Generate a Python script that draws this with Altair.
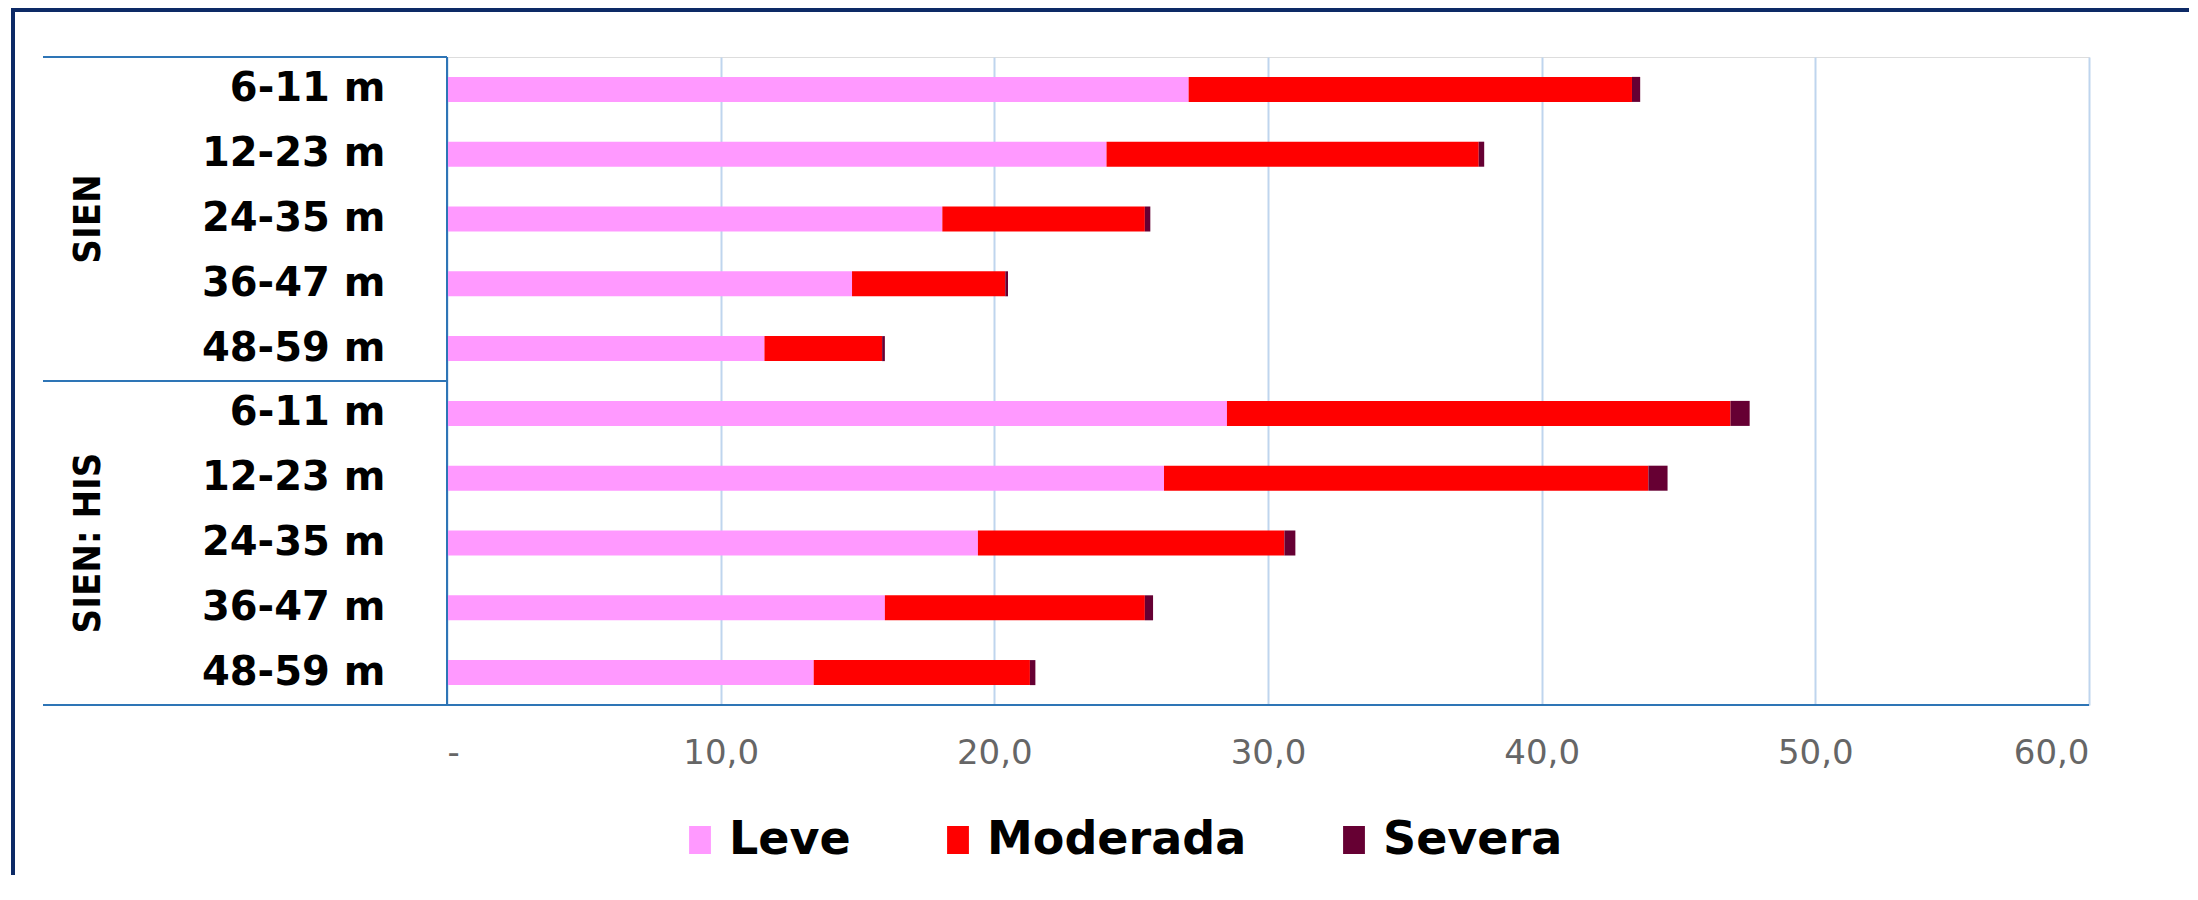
import altair as alt
import pandas as pd

groups = ["SIEN", "SIEN: HIS"]
ages = ["6-11 m", "12-23 m", "24-35 m", "36-47 m", "48-59 m"]
levels = ["Leve", "Moderada", "Severa"]
colors = ["#ff99ff", "#ff0000", "#660033"]

# values per group, in the order of `ages`
sien_leve = [27.1, 24.1, 18.1, 14.8, 11.6]
sien_moderada = [16.2, 13.6, 7.4, 5.6, 4.3]
sien_severa = [0.3, 0.2, 0.2, 0.1, 0.1]
his_leve = [28.5, 26.2, 19.4, 16.0, 13.4]
his_moderada = [18.4, 17.7, 11.2, 9.5, 7.9]
his_severa = [0.7, 0.7, 0.4, 0.3, 0.2]

x_ticks = [0, 10, 20, 30, 40, 50, 60]

W, H = 1642, 648
BLUE = "#2e75b6"
GRID = "#bfd5ee"

series = {
    "SIEN": [sien_leve, sien_moderada, sien_severa],
    "SIEN: HIS": [his_leve, his_moderada, his_severa],
}
rows = []
keys = []
for g in groups:
    for i, a in enumerate(ages):
        k = f"{g}|{a}"
        keys.append(k)
        for j, lv in enumerate(levels):
            rows.append({"key": k, "group": g, "age": a, "level": lv,
                         "value": series[g][j][i], "ord": j})
df = pd.DataFrame(rows)

yscale = alt.Scale(domain=keys, paddingInner=0.614, paddingOuter=0.307)

bars = alt.Chart(df).mark_bar().encode(
    x=alt.X("value:Q", stack="zero",
            scale=alt.Scale(domain=[0, 60], nice=False),
            axis=alt.Axis(values=x_ticks, title=None, grid=True,
                          gridColor=GRID, gridWidth=2, domain=False,
                          ticks=False, tickSize=0, labelPadding=48,
                          labelBaseline="middle",
                          labelExpr="datum.value == 0 ? '-' : replace(format(datum.value, '.1f'), '.', ',')",
                          labelFont="DejaVu Sans", labelFontSize=34,
                          labelColor="#666666")),
    y=alt.Y("key:N", sort=keys, scale=yscale,
            axis=alt.Axis(title=None, domain=False, ticks=False, tickSize=0,
                          labelPadding=62,
                          labelExpr="split(datum.label, '|')[1]",
                          labelFont="DejaVu Sans", labelFontWeight="bold",
                          labelFontSize=40, labelColor="#000000",
                          labelLimit=0)),
    color=alt.Color("level:N", sort=levels,
                    scale=alt.Scale(domain=levels, range=colors),
                    legend=alt.Legend(title=None, orient="none",
                                      legendX=230, legendY=760,
                                      direction="horizontal",
                                      symbolType="M-0.78,-1H0.78V1H-0.78Z",
                                      symbolSize=784, symbolStrokeWidth=0,
                                      labelOffset=6, columnPadding=84,
                                      padding=0, labelLimit=0,
                                      labelFont="DejaVu Sans",
                                      labelFontWeight="bold",
                                      labelFontSize=46,
                                      labelColor="#000000")),
    order=alt.Order("ord:Q"),
)

glab = pd.DataFrame({"key": [f"{g}|{ages[2]}" for g in groups], "label": groups})
group_text = alt.Chart(glab).mark_text(
    angle=270, align="center", baseline="middle",
    font="Liberation Sans Narrow, DejaVu Sans Condensed, DejaVu Sans",
    fontWeight="bold", fontSize=38, color="#000000"
).encode(
    y=alt.Y("key:N", sort=keys, scale=yscale),
    x=alt.value(-358),
    text="label:N",
)

one = pd.DataFrame({"a": [0]})
line_top = alt.Chart(one).mark_rule(color=BLUE, strokeWidth=2).encode(
    x=alt.value(-404), x2=alt.value(0), y=alt.value(0))
line_mid = alt.Chart(one).mark_rule(color=BLUE, strokeWidth=2).encode(
    x=alt.value(-404), x2=alt.value(0), y=alt.value(H / 2))
line_bot = alt.Chart(one).mark_rule(color=BLUE, strokeWidth=2).encode(
    x=alt.value(-404), x2=alt.value(W), y=alt.value(H))
line_v = alt.Chart(one).mark_rule(color=BLUE, strokeWidth=2).encode(
    x=alt.value(0), y=alt.value(0), y2=alt.value(H))
frame = alt.Chart(one).mark_rect(fillOpacity=0, stroke="#0d2a66", strokeWidth=4).encode(
    x=alt.value(-434), x2=alt.value(W + 300), y=alt.value(-47), y2=alt.value(H + 400))

chart = alt.layer(bars, group_text, line_top, line_mid, line_bot, line_v, frame).properties(
    width=W, height=H,
    autosize=alt.AutoSizeParams(type="none"),
    padding={"left": 439, "top": 49, "right": 100, "bottom": 170},
).configure_view(stroke=None).configure(background="white")

chart.save("out.html", embed_options={"renderer": "svg", "actions": False})
